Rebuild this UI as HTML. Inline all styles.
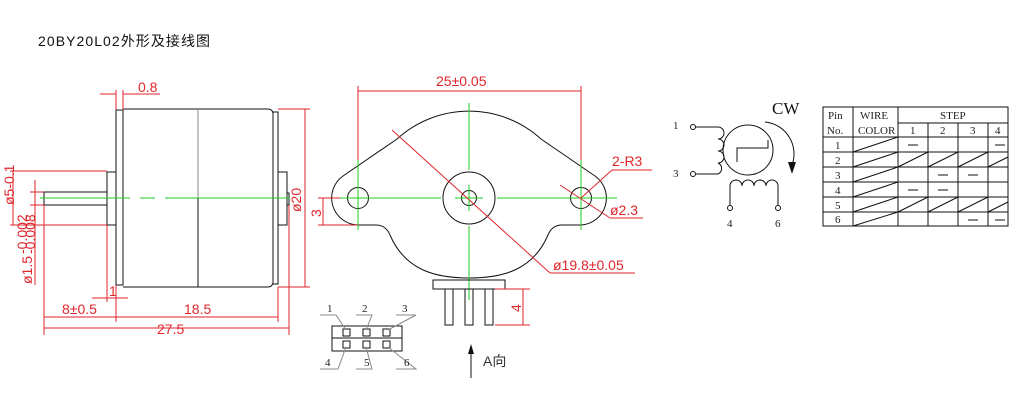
<!DOCTYPE html>
<html><head><meta charset="utf-8"><style>
html,body{margin:0;padding:0;background:#fff;}
svg{display:block;}
.k{stroke:#111;stroke-width:1;fill:none;}
.r{stroke:#e0262b;stroke-width:1;fill:none;}
.g{stroke:#22cc22;stroke-width:1;fill:none;}
.gr{stroke:#888;stroke-width:1;fill:none;}
.rt{fill:#e0262b;font-family:"Liberation Sans",sans-serif;font-size:14px;}
.st{fill:#222;font-family:"Liberation Serif",serif;font-size:11px;}
</style></head><body>
<svg width="1028" height="410" viewBox="0 0 1028 410" xmlns="http://www.w3.org/2000/svg">
<text x="38" y="46" font-family="Liberation Sans,'Noto Sans CJK SC',sans-serif" font-size="14" fill="#111" textLength="172">20BY20L02外形及接线图</text>

<g>
  <rect class="k" x="116" y="110" width="7" height="175"/>
  <path class="k" d="M123,109 L268,109 Q272,109 273,113 L273,283 Q272,287 268,287 L123,287" />
  <line class="gr" x1="198" y1="109" x2="198" y2="198"/>
  <line class="k" x1="198" y1="198" x2="198" y2="287"/>
  <rect class="k" x="273" y="112" width="5" height="172"/>
  <rect class="k" x="278" y="172" width="9" height="53"/>
  <rect class="k" x="287" y="193" width="2" height="12"/>
  <rect class="k" x="107" y="172" width="9" height="53"/>
  <rect class="k" x="44" y="192" width="63" height="13"/>
  <line class="g" x1="40" y1="198" x2="290" y2="198" stroke-dasharray="90,10,15,10,200"/>
  <line class="r" x1="116" y1="90" x2="116" y2="110"/><line class="r" x1="123" y1="90" x2="123" y2="110"/>
  <line class="r" x1="100" y1="94" x2="116" y2="94"/><line class="r" x1="123" y1="94" x2="160" y2="94"/>
  <text class="rt" x="138" y="92" font-size="12">0.8</text>
  <line class="r" x1="278" y1="109" x2="310" y2="109"/><line class="r" x1="278" y1="287" x2="310" y2="287"/>
  <line class="r" x1="305" y1="109" x2="305" y2="287"/>
  <text class="rt" transform="translate(301,212) rotate(-90)" font-size="12">ø20</text>
  <line class="r" x1="10" y1="171" x2="107" y2="171"/><line class="r" x1="10" y1="225" x2="107" y2="225"/>
  <line class="r" x1="13" y1="171" x2="13" y2="225"/>
  <text class="rt" transform="translate(14,205) rotate(-90)" font-size="11">ø5-0.1</text>
  <line class="r" x1="30" y1="192" x2="44" y2="192"/><line class="r" x1="30" y1="205" x2="44" y2="205"/>
  <line class="r" x1="35" y1="180" x2="35" y2="285"/>
  <text class="rt" transform="translate(32,284) rotate(-90)" font-size="11">ø1.5</text>
  <text class="rt" transform="translate(27,254) rotate(-90)" font-size="8">-0.002</text>
  <text class="rt" transform="translate(35,254) rotate(-90)" font-size="8">-0.008</text>
  <line class="r" x1="44" y1="205" x2="44" y2="335"/><line class="r" x1="116" y1="285" x2="116" y2="322"/>
  <line class="r" x1="107" y1="225" x2="107" y2="302"/><line class="r" x1="278" y1="287" x2="278" y2="322"/>
  <line class="r" x1="289" y1="205" x2="289" y2="335"/>
  <line class="r" x1="92" y1="298" x2="128" y2="298"/>
  <text class="rt" x="109" y="296" font-size="12">1</text>
  <line class="r" x1="44" y1="317" x2="278" y2="317"/>
  <text class="rt" x="62" y="314" font-size="13">8±0.5</text>
  <text class="rt" x="184" y="314" font-size="13">18.5</text>
  <line class="r" x1="44" y1="328" x2="289" y2="328"/>
  <text class="rt" x="157" y="334" font-size="13">27.5</text>
</g>

<g>
  <path class="k" d="M358,225 A27,27 0 0 1 343,176 L397,139 A107,107 0 0 1 541,139 L595,176 A27,27 0 0 1 581,225 L562,225 Q552,225 548,235 C533,270 503,278 469,278 C435,278 405,270 390,235 Q386,225 376,225 Z"/>
  <circle class="k" cx="358" cy="198" r="10.5"/><circle class="k" cx="581" cy="198" r="10.5"/>
  <circle class="k" cx="469" cy="198" r="26"/><circle class="k" cx="469" cy="198" r="7.5"/>
  <line class="g" x1="331" y1="198" x2="441" y2="198"/><line class="g" x1="455" y1="198" x2="483" y2="198"/><line class="g" x1="497" y1="198" x2="617" y2="198"/>
  <line class="g" x1="469" y1="103" x2="469" y2="170"/><line class="g" x1="469" y1="185" x2="469" y2="211"/><line class="g" x1="469" y1="226" x2="469" y2="300"/>
  <line class="g" x1="358" y1="160" x2="358" y2="230"/><line class="g" x1="581" y1="160" x2="581" y2="230"/>
  <line class="r" x1="358" y1="86" x2="358" y2="160"/><line class="r" x1="581" y1="86" x2="581" y2="160"/>
  <line class="r" x1="358" y1="91" x2="581" y2="91"/>
  <text class="rt" x="436" y="86" font-size="16">25±0.05</text>
  <line class="r" x1="392" y1="130" x2="550" y2="273"/><line class="r" x1="550" y1="273" x2="635" y2="273"/>
  <text class="rt" x="553" y="270" font-size="15">ø19.8±0.05</text>
  <line class="r" x1="581" y1="198" x2="612" y2="170"/><line class="r" x1="612" y1="170" x2="652" y2="170"/>
  <text class="rt" x="612" y="166" font-size="15">2-R3</text>
  <line class="r" x1="560" y1="185" x2="610" y2="218"/><line class="r" x1="610" y1="218" x2="643" y2="218"/>
  <text class="rt" x="610" y="215" font-size="15">ø2.3</text>
  <line class="r" x1="318" y1="198" x2="340" y2="198"/><line class="r" x1="318" y1="225" x2="358" y2="225"/>
  <line class="r" x1="323" y1="198" x2="323" y2="225"/>
  <text class="rt" transform="translate(321,217) rotate(-90)" font-size="15">3</text>
  <rect class="k" x="433" y="280" width="72" height="9"/>
  <rect class="k" x="445" y="289" width="8" height="36"/><rect class="k" x="465" y="289" width="8" height="36"/><rect class="k" x="485" y="289" width="8" height="36"/>
  <line class="r" x1="495" y1="289" x2="530" y2="289"/><line class="r" x1="495" y1="325" x2="530" y2="325"/>
  <line class="r" x1="523" y1="289" x2="523" y2="325"/>
  <text class="rt" transform="translate(521,312) rotate(-90)" font-size="14">4</text>
</g>

<g>
  <rect class="k" x="332" y="326" width="70" height="25"/><line class="k" x1="332" y1="338" x2="402" y2="338"/>
  <rect class="k" x="343" y="329" width="7" height="7"/><rect class="k" x="363" y="329" width="7" height="7"/><rect class="k" x="383" y="329" width="7" height="7"/>
  <rect class="k" x="343" y="341" width="7" height="7"/><rect class="k" x="363" y="341" width="7" height="7"/><rect class="k" x="383" y="341" width="7" height="7"/>
  <path class="gr" d="M320,315 L336,315 L346,330 M356,315 L372,315 L366,330 M396,315 L416,315 L388,330 M320,369 L338,369 L346,347 M356,369 L372,369 L366,347 M396,369 L416,369 L388,347"/>
  <text class="st" x="327" y="312" font-size="9">1</text><text class="st" x="362" y="312" font-size="9">2</text><text class="st" x="402" y="312" font-size="9">3</text>
  <text class="st" x="325" y="366" font-size="9">4</text><text class="st" x="364" y="366" font-size="9">5</text><text class="st" x="404" y="366" font-size="9">6</text>
  <line class="k" x1="471" y1="350" x2="471" y2="378"/><path d="M471,344 L468,354 L474,354 Z" fill="#111"/>
  <text x="483" y="366" font-family="Liberation Sans,'Noto Sans CJK SC',sans-serif" font-size="14" fill="#333">A向</text>
</g>

<g>
  <text class="st" x="673" y="129" font-size="9">1</text><text class="st" x="673" y="177" font-size="9">3</text>
  <circle class="k" cx="693" cy="127" r="2.5"/><circle class="k" cx="693" cy="174" r="2.5"/>
  <path class="k" d="M695,127 L718,127 A6,6 0 0 1 718,139 A6,6 0 0 1 718,151 A6,6 0 0 1 718,163 A6,6 0 0 1 718,174 L695,174"/>
  <circle class="k" cx="748" cy="150" r="25"/>
  <path class="k" d="M737,162 L737,148 L768,148 L768,140"/>
  <path class="k" d="M765,122 A32,32 0 0 1 792,165"/><path d="M792,174 L788,162 L796,162 Z" fill="#111"/>
  <text x="772" y="114" font-family="Liberation Serif,serif" font-size="17" fill="#111">CW</text>
  <path class="k" d="M730,205 L730,186 A6,6 0 0 1 742,186 A6,6 0 0 1 754,186 A6,6 0 0 1 766,186 A6,6 0 0 1 778,186 L778,205"/>
  <circle class="k" cx="730" cy="208" r="2.5"/><circle class="k" cx="778" cy="208" r="2.5"/>
  <text class="st" x="727" y="227" font-size="9">4</text><text class="st" x="775" y="227" font-size="9">6</text>
</g>

<g>
  <rect class="k" x="823" y="107" width="185" height="119"/>
  <line class="k" x1="898" y1="123" x2="1008" y2="123"/>
  <line class="k" x1="823" y1="137" x2="1008" y2="137"/>
  <line class="k" x1="823" y1="152" x2="1008" y2="152"/><line class="k" x1="823" y1="167" x2="1008" y2="167"/>
  <line class="k" x1="823" y1="182" x2="1008" y2="182"/><line class="k" x1="823" y1="197" x2="1008" y2="197"/>
  <line class="k" x1="823" y1="212" x2="1008" y2="212"/>
  <line class="k" x1="853" y1="107" x2="853" y2="226"/><line class="k" x1="898" y1="107" x2="898" y2="226"/>
  <line class="k" x1="928" y1="123" x2="928" y2="226"/><line class="k" x1="958" y1="123" x2="958" y2="226"/><line class="k" x1="988" y1="123" x2="988" y2="226"/>
  <text class="st" x="828" y="119">Pin</text><text class="st" x="860" y="119">WIRE</text><text class="st" x="940" y="119">STEP</text>
  <text class="st" x="827" y="134">No.</text><text class="st" x="858" y="134">COLOR</text>
  <text class="st" x="910" y="134">1</text><text class="st" x="940" y="134">2</text><text class="st" x="970" y="134">3</text><text class="st" x="995" y="134">4</text>
  <text class="st" x="835" y="149">1</text><text class="st" x="835" y="164">2</text><text class="st" x="835" y="179">3</text>
  <text class="st" x="835" y="194">4</text><text class="st" x="835" y="209">5</text><text class="st" x="835" y="223">6</text>
  <path class="k" d="M853,152 L898,137 M853,167 L898,152 M853,182 L898,167 M853,197 L898,182 M853,212 L898,197 M853,226 L898,212
    M898,167 L928,152 M928,167 L958,152 M958,167 L988,152 M988,167 L1008,157
    M898,212 L928,197 M928,212 L958,197 M958,212 L988,197 M988,212 L1008,202"/>
  <path class="k" stroke-width="1.3" d="M908,145 L918,145 M995,145 L1005,145 M938,175 L948,175 M968,175 L978,175 M908,190 L918,190 M938,190 L948,190 M968,220 L978,220 M995,220 L1005,220"/>
</g>
</svg>
</body></html>
